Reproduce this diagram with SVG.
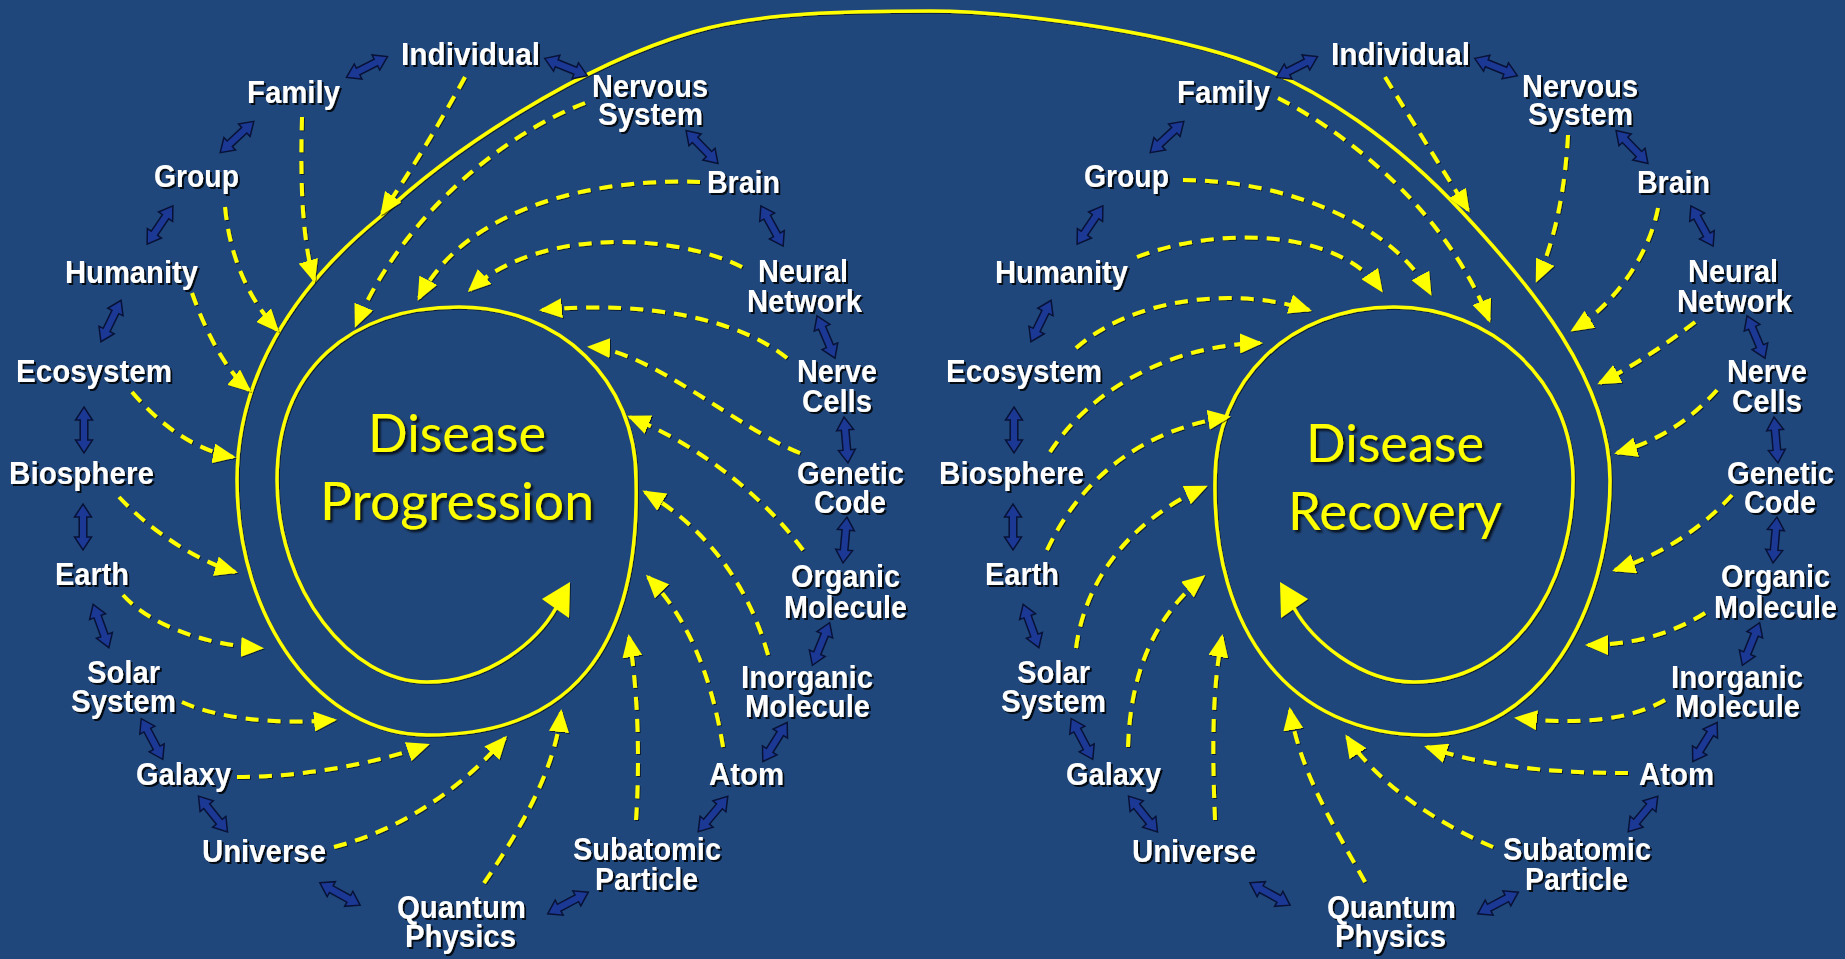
<svg xmlns="http://www.w3.org/2000/svg" xmlns:xlink="http://www.w3.org/1999/xlink" width="1845" height="959" viewBox="0 0 1845 959">
<defs>
<style>
.lbl{font-family:"Liberation Sans",Arial,sans-serif;font-weight:bold;font-size:31px;fill:#ffffff;filter:url(#ts)}
.ttl{font-family:Lato,"Open Sans",sans-serif;font-size:52px;fill:#ffff00;filter:url(#ts2)}
.dash{fill:none;stroke:#ffff00;stroke-width:4;stroke-dasharray:13 9;marker-end:url(#ah)}
.spiral{fill:none;stroke:#ffff00;stroke-width:3.5}
.dbl{fill:#1b3895;stroke:#081236;stroke-width:1.5}
</style>
<filter id="ts" x="-10%" y="-20%" width="130%" height="150%"><feDropShadow dx="2" dy="2" stdDeviation="0.7" flood-color="#000" flood-opacity="0.85"/></filter>
<filter id="ts2" x="-10%" y="-20%" width="130%" height="150%"><feDropShadow dx="2.5" dy="2.5" stdDeviation="1.2" flood-color="#000" flood-opacity="0.8"/></filter>
<filter id="ls" x="-5%" y="-5%" width="110%" height="110%"><feDropShadow dx="1" dy="1" stdDeviation="0.6" flood-color="#000" flood-opacity="0.6"/></filter>
<marker id="ah" markerUnits="userSpaceOnUse" markerWidth="24" markerHeight="20" viewBox="0 0 24 20" refX="20" refY="10" orient="auto"><path d="M0,0 L23,10 L0,20 Z" fill="#ffff00"/></marker>
<path id="dbl" d="M-23,0 L-10,-8.5 L-10,-3.8 L10,-3.8 L10,-8.5 L23,0 L10,8.5 L10,3.8 L-10,3.8 L-10,8.5 Z"/>
</defs>
<rect width="1845" height="959" fill="#20477b"/>

<g id="connectors">
<g id="spiral" filter="url(#ls)">
<path class="spiral" d="M556,608 C538,640 490,682 427,682 C350,682 277,590 277,480 C277,370 350,307 459,307 C560,307 636,380 636,480 C640,650 570,735 427,735 C320,735 237,620 237,480 C237,380 290,290 380,217 C450,150 580,65 693,32 C760,12 850,11 930,11 C1010,11 1150,30 1236,58 C1320,86 1400,145 1463,213 C1530,285 1610,380 1610,480 C1610,610 1540,735 1426,735 C1290,735 1212,630 1215,480 C1215,380 1290,307 1394,307 C1490,307 1573,380 1573,480 C1573,590 1510,682 1414,682 C1360,682 1312,640 1294,608"/>
<polygon points="570,582 542,599 569,618" fill="#ffff00"/>
<polygon points="1280,582 1308,599 1281,618" fill="#ffff00"/>
</g>
<g id="dashed-left" filter="url(#ls)">
<path class="dash" d="M465,77 Q425,150 382,213"/>
<path class="dash" d="M302,117 C300,180 302,240 314,280"/>
<path class="dash" d="M225,207 C230,260 250,300 277,330"/>
<path class="dash" d="M192,293 C205,330 225,370 249,390"/>
<path class="dash" d="M132,392 C160,425 195,450 233,457"/>
<path class="dash" d="M119,497 C150,530 195,560 235,572"/>
<path class="dash" d="M123,595 C150,625 205,645 261,648"/>
<path class="dash" d="M182,702 C215,717 270,725 334,720"/>
<path class="dash" d="M237,777 C300,777 370,765 427,745"/>
<path class="dash" d="M334,847 C400,830 460,790 505,738"/>
<path class="dash" d="M484,883 C520,830 555,770 561,712"/>
<path class="dash" d="M636,820 C640,760 638,690 629,637"/>
<path class="dash" d="M723,747 C712,680 690,620 648,577"/>
<path class="dash" d="M768,655 C750,590 710,530 645,492"/>
<path class="dash" d="M803,550 C770,505 710,450 630,417"/>
<path class="dash" d="M800,453 C740,430 650,350 590,347"/>
<path class="dash" d="M787,358 C740,320 650,300 542,310"/>
<path class="dash" d="M742,267 C680,235 540,225 470,290"/>
<path class="dash" d="M700,182 C610,178 470,200 419,298"/>
<path class="dash" d="M585,103 C500,135 400,220 356,325"/>
</g>
<g id="dashed-right" filter="url(#ls)">
<path class="dash" d="M1385,77 Q1430,150 1468,210"/>
<path class="dash" d="M1278,98 C1360,140 1450,220 1489,320"/>
<path class="dash" d="M1183,180 C1280,180 1390,220 1430,293"/>
<path class="dash" d="M1137,257 C1220,225 1340,230 1381,290"/>
<path class="dash" d="M1076,348 C1130,300 1230,285 1309,310"/>
<path class="dash" d="M1050,452 C1090,390 1170,345 1260,343"/>
<path class="dash" d="M1047,550 C1080,480 1140,430 1228,417"/>
<path class="dash" d="M1076,648 C1085,580 1130,520 1205,487"/>
<path class="dash" d="M1128,747 C1130,680 1150,620 1203,577"/>
<path class="dash" d="M1215,820 C1212,750 1212,690 1222,637"/>
<path class="dash" d="M1365,882 C1330,820 1300,770 1290,710"/>
<path class="dash" d="M1493,847 C1430,820 1375,780 1347,737"/>
<path class="dash" d="M1628,773 C1560,773 1490,768 1427,747"/>
<path class="dash" d="M1665,700 C1630,720 1580,725 1517,718"/>
<path class="dash" d="M1705,613 C1670,635 1630,645 1588,645"/>
<path class="dash" d="M1732,495 C1700,530 1660,555 1615,570"/>
<path class="dash" d="M1717,390 C1690,420 1660,440 1617,453"/>
<path class="dash" d="M1695,322 C1665,345 1635,365 1600,383"/>
<path class="dash" d="M1658,208 C1650,250 1620,300 1573,330"/>
<path class="dash" d="M1568,135 C1565,190 1555,240 1537,280"/>
</g>
<g id="links-left" class="dbl">
<use xlink:href="#dbl" transform="translate(367,67) rotate(-27)"/>
<use xlink:href="#dbl" transform="translate(566,67) rotate(22)"/>
<use xlink:href="#dbl" transform="translate(237,137) rotate(-43)"/>
<use xlink:href="#dbl" transform="translate(160,225) rotate(-56)"/>
<use xlink:href="#dbl" transform="translate(111,321) rotate(-64)"/>
<use xlink:href="#dbl" transform="translate(84,430) rotate(90)"/>
<use xlink:href="#dbl" transform="translate(83,527) rotate(90)"/>
<use xlink:href="#dbl" transform="translate(101,626) rotate(70)"/>
<use xlink:href="#dbl" transform="translate(152,739) rotate(62)"/>
<use xlink:href="#dbl" transform="translate(213,814) rotate(51)"/>
<use xlink:href="#dbl" transform="translate(340,894) rotate(29)"/>
<use xlink:href="#dbl" transform="translate(568,903) rotate(-28)"/>
<use xlink:href="#dbl" transform="translate(702,147) rotate(46)"/>
<use xlink:href="#dbl" transform="translate(772,226) rotate(61)"/>
<use xlink:href="#dbl" transform="translate(826,337) rotate(67)"/>
<use xlink:href="#dbl" transform="translate(846,440) rotate(85)"/>
<use xlink:href="#dbl" transform="translate(845,540) rotate(95)"/>
<use xlink:href="#dbl" transform="translate(821,644) rotate(112)"/>
<use xlink:href="#dbl" transform="translate(775,742) rotate(122)"/>
<use xlink:href="#dbl" transform="translate(713,814) rotate(130)"/>
</g>
<g id="links-right" class="dbl">
<use xlink:href="#dbl" transform="translate(1297,67) rotate(-27)"/>
<use xlink:href="#dbl" transform="translate(1496,67) rotate(22)"/>
<use xlink:href="#dbl" transform="translate(1167,137) rotate(-43)"/>
<use xlink:href="#dbl" transform="translate(1090,225) rotate(-56)"/>
<use xlink:href="#dbl" transform="translate(1041,321) rotate(-64)"/>
<use xlink:href="#dbl" transform="translate(1014,430) rotate(90)"/>
<use xlink:href="#dbl" transform="translate(1013,527) rotate(90)"/>
<use xlink:href="#dbl" transform="translate(1031,626) rotate(70)"/>
<use xlink:href="#dbl" transform="translate(1082,739) rotate(62)"/>
<use xlink:href="#dbl" transform="translate(1143,814) rotate(51)"/>
<use xlink:href="#dbl" transform="translate(1270,894) rotate(29)"/>
<use xlink:href="#dbl" transform="translate(1498,903) rotate(-28)"/>
<use xlink:href="#dbl" transform="translate(1632,147) rotate(46)"/>
<use xlink:href="#dbl" transform="translate(1702,226) rotate(61)"/>
<use xlink:href="#dbl" transform="translate(1756,337) rotate(67)"/>
<use xlink:href="#dbl" transform="translate(1776,440) rotate(85)"/>
<use xlink:href="#dbl" transform="translate(1775,540) rotate(95)"/>
<use xlink:href="#dbl" transform="translate(1751,644) rotate(112)"/>
<use xlink:href="#dbl" transform="translate(1705,742) rotate(122)"/>
<use xlink:href="#dbl" transform="translate(1643,814) rotate(130)"/>
</g>
</g>

<g id="title-left"><text class="ttl"><tspan x="368" y="452" textLength="178" lengthAdjust="spacingAndGlyphs">Disease</tspan><tspan x="320" y="520" textLength="274" lengthAdjust="spacingAndGlyphs">Progression</tspan></text></g>
<g id="title-right"><text class="ttl"><tspan x="1306" y="462" textLength="178" lengthAdjust="spacingAndGlyphs">Disease</tspan><tspan x="1288" y="530" textLength="214" lengthAdjust="spacingAndGlyphs">Recovery</tspan></text></g>

<g id="left-nodes">
<g id="l-individual"><text class="lbl" x="401" y="65" textLength="139" lengthAdjust="spacingAndGlyphs">Individual</text></g>
<g id="l-family"><text class="lbl" x="247" y="103" textLength="93" lengthAdjust="spacingAndGlyphs">Family</text></g>
<g id="l-group"><text class="lbl" x="154" y="187" textLength="85" lengthAdjust="spacingAndGlyphs">Group</text></g>
<g id="l-humanity"><text class="lbl" x="65" y="283" textLength="133" lengthAdjust="spacingAndGlyphs">Humanity</text></g>
<g id="l-ecosystem"><text class="lbl" x="16" y="382" textLength="156" lengthAdjust="spacingAndGlyphs">Ecosystem</text></g>
<g id="l-biosphere"><text class="lbl" x="9" y="484" textLength="145" lengthAdjust="spacingAndGlyphs">Biosphere</text></g>
<g id="l-earth"><text class="lbl" x="55" y="585" textLength="74" lengthAdjust="spacingAndGlyphs">Earth</text></g>
<g id="l-solar"><text class="lbl"><tspan x="87" y="683" textLength="73" lengthAdjust="spacingAndGlyphs">Solar</tspan><tspan x="71" y="712" textLength="105" lengthAdjust="spacingAndGlyphs">System</tspan></text></g>
<g id="l-galaxy"><text class="lbl" x="136" y="785" textLength="95" lengthAdjust="spacingAndGlyphs">Galaxy</text></g>
<g id="l-universe"><text class="lbl" x="202" y="862" textLength="124" lengthAdjust="spacingAndGlyphs">Universe</text></g>
<g id="l-quantum"><text class="lbl"><tspan x="397" y="918" textLength="129" lengthAdjust="spacingAndGlyphs">Quantum</tspan><tspan x="405" y="947" textLength="111" lengthAdjust="spacingAndGlyphs">Physics</tspan></text></g>
<g id="l-nervous"><text class="lbl"><tspan x="592" y="97" textLength="116" lengthAdjust="spacingAndGlyphs">Nervous</tspan><tspan x="598" y="125" textLength="105" lengthAdjust="spacingAndGlyphs">System</tspan></text></g>
<g id="l-brain"><text class="lbl" x="707" y="193" textLength="73" lengthAdjust="spacingAndGlyphs">Brain</text></g>
<g id="l-neural"><text class="lbl"><tspan x="758" y="282" textLength="90" lengthAdjust="spacingAndGlyphs">Neural</tspan><tspan x="747" y="312" textLength="115" lengthAdjust="spacingAndGlyphs">Network</tspan></text></g>
<g id="l-nerve"><text class="lbl"><tspan x="797" y="382" textLength="80" lengthAdjust="spacingAndGlyphs">Nerve</tspan><tspan x="802" y="412" textLength="70" lengthAdjust="spacingAndGlyphs">Cells</tspan></text></g>
<g id="l-genetic"><text class="lbl"><tspan x="797" y="484" textLength="107" lengthAdjust="spacingAndGlyphs">Genetic</tspan><tspan x="814" y="513" textLength="72" lengthAdjust="spacingAndGlyphs">Code</tspan></text></g>
<g id="l-organic"><text class="lbl"><tspan x="791" y="587" textLength="109" lengthAdjust="spacingAndGlyphs">Organic</tspan><tspan x="784" y="618" textLength="123" lengthAdjust="spacingAndGlyphs">Molecule</tspan></text></g>
<g id="l-inorganic"><text class="lbl"><tspan x="741" y="688" textLength="132" lengthAdjust="spacingAndGlyphs">Inorganic</tspan><tspan x="745" y="717" textLength="125" lengthAdjust="spacingAndGlyphs">Molecule</tspan></text></g>
<g id="l-atom"><text class="lbl" x="709" y="785" textLength="75" lengthAdjust="spacingAndGlyphs">Atom</text></g>
<g id="l-subatomic"><text class="lbl"><tspan x="573" y="860" textLength="148" lengthAdjust="spacingAndGlyphs">Subatomic</tspan><tspan x="595" y="890" textLength="103" lengthAdjust="spacingAndGlyphs">Particle</tspan></text></g>
</g>

<g id="right-nodes">
<g id="r-individual"><text class="lbl" x="1331" y="65" textLength="139" lengthAdjust="spacingAndGlyphs">Individual</text></g>
<g id="r-family"><text class="lbl" x="1177" y="103" textLength="93" lengthAdjust="spacingAndGlyphs">Family</text></g>
<g id="r-group"><text class="lbl" x="1084" y="187" textLength="85" lengthAdjust="spacingAndGlyphs">Group</text></g>
<g id="r-humanity"><text class="lbl" x="995" y="283" textLength="133" lengthAdjust="spacingAndGlyphs">Humanity</text></g>
<g id="r-ecosystem"><text class="lbl" x="946" y="382" textLength="156" lengthAdjust="spacingAndGlyphs">Ecosystem</text></g>
<g id="r-biosphere"><text class="lbl" x="939" y="484" textLength="145" lengthAdjust="spacingAndGlyphs">Biosphere</text></g>
<g id="r-earth"><text class="lbl" x="985" y="585" textLength="74" lengthAdjust="spacingAndGlyphs">Earth</text></g>
<g id="r-solar"><text class="lbl"><tspan x="1017" y="683" textLength="73" lengthAdjust="spacingAndGlyphs">Solar</tspan><tspan x="1001" y="712" textLength="105" lengthAdjust="spacingAndGlyphs">System</tspan></text></g>
<g id="r-galaxy"><text class="lbl" x="1066" y="785" textLength="95" lengthAdjust="spacingAndGlyphs">Galaxy</text></g>
<g id="r-universe"><text class="lbl" x="1132" y="862" textLength="124" lengthAdjust="spacingAndGlyphs">Universe</text></g>
<g id="r-quantum"><text class="lbl"><tspan x="1327" y="918" textLength="129" lengthAdjust="spacingAndGlyphs">Quantum</tspan><tspan x="1335" y="947" textLength="111" lengthAdjust="spacingAndGlyphs">Physics</tspan></text></g>
<g id="r-nervous"><text class="lbl"><tspan x="1522" y="97" textLength="116" lengthAdjust="spacingAndGlyphs">Nervous</tspan><tspan x="1528" y="125" textLength="105" lengthAdjust="spacingAndGlyphs">System</tspan></text></g>
<g id="r-brain"><text class="lbl" x="1637" y="193" textLength="73" lengthAdjust="spacingAndGlyphs">Brain</text></g>
<g id="r-neural"><text class="lbl"><tspan x="1688" y="282" textLength="90" lengthAdjust="spacingAndGlyphs">Neural</tspan><tspan x="1677" y="312" textLength="115" lengthAdjust="spacingAndGlyphs">Network</tspan></text></g>
<g id="r-nerve"><text class="lbl"><tspan x="1727" y="382" textLength="80" lengthAdjust="spacingAndGlyphs">Nerve</tspan><tspan x="1732" y="412" textLength="70" lengthAdjust="spacingAndGlyphs">Cells</tspan></text></g>
<g id="r-genetic"><text class="lbl"><tspan x="1727" y="484" textLength="107" lengthAdjust="spacingAndGlyphs">Genetic</tspan><tspan x="1744" y="513" textLength="72" lengthAdjust="spacingAndGlyphs">Code</tspan></text></g>
<g id="r-organic"><text class="lbl"><tspan x="1721" y="587" textLength="109" lengthAdjust="spacingAndGlyphs">Organic</tspan><tspan x="1714" y="618" textLength="123" lengthAdjust="spacingAndGlyphs">Molecule</tspan></text></g>
<g id="r-inorganic"><text class="lbl"><tspan x="1671" y="688" textLength="132" lengthAdjust="spacingAndGlyphs">Inorganic</tspan><tspan x="1675" y="717" textLength="125" lengthAdjust="spacingAndGlyphs">Molecule</tspan></text></g>
<g id="r-atom"><text class="lbl" x="1639" y="785" textLength="75" lengthAdjust="spacingAndGlyphs">Atom</text></g>
<g id="r-subatomic"><text class="lbl"><tspan x="1503" y="860" textLength="148" lengthAdjust="spacingAndGlyphs">Subatomic</tspan><tspan x="1525" y="890" textLength="103" lengthAdjust="spacingAndGlyphs">Particle</tspan></text></g>
</g>
</svg>
